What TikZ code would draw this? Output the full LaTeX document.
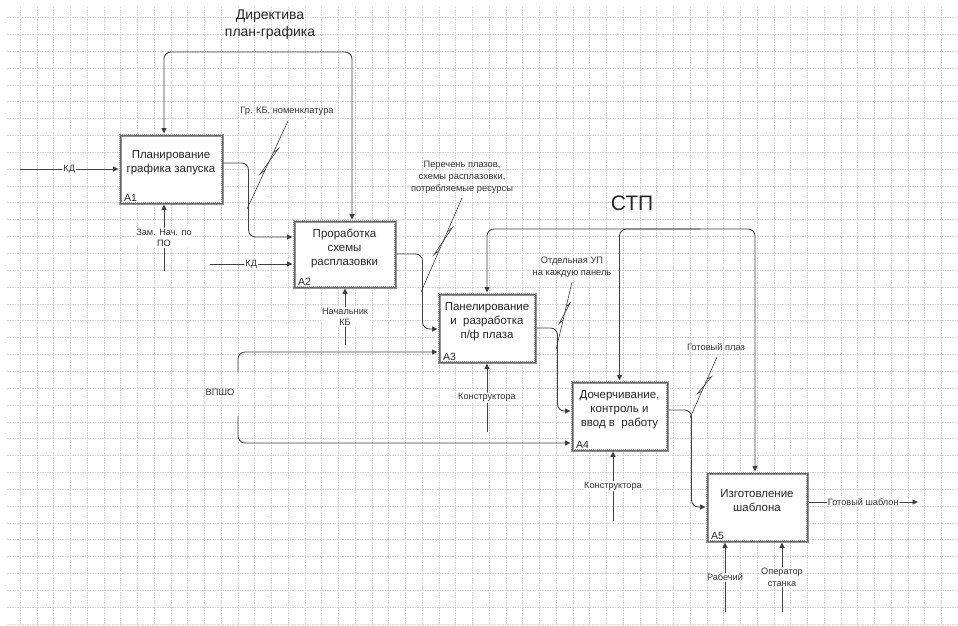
\documentclass[tikz,border=0pt]{standalone}
\usepackage{fontspec}
\setmainfont{Liberation Sans}
\usetikzlibrary{arrows.meta,calc,positioning}

% squiggle from a callout label to its arrow
\newcommand{\squigline}[2]{%
  \draw[callout] (#1) -- (#2);
  \draw[callout] ($(#1)!0.36!(#2)$) -- ($(#1)!0.30!(#2)!3pt!90:(#2)$)
    -- ($(#1)!0.62!(#2)!3pt!-90:(#2)$) -- ($(#1)!0.56!(#2)$);
}

\begin{document}
\begin{tikzpicture}[x=1pt,y=-1pt,
  gridline/.style={draw=gray!35, line width=0.4pt, dash pattern=on 1.5pt off 1pt},
  procbox/.style={draw=gray!85, line width=3pt, inner sep=0pt, fill=white,
    postaction={draw=white, line width=1.6pt, dash pattern=on 1pt off 1pt},
    postaction={draw=black!60, line width=0.5pt}},
  boxtext/.style={align=center, inner sep=0pt, text=black!85,
    font=\fontsize{11.5}{14}\selectfont},
  boxid/.style={anchor=south west, inner xsep=5.5pt, inner ysep=3pt, text=black!85,
    font=\fontsize{10.5}{12}\selectfont},
  flow/.style={draw=black!75, line width=0.85pt, rounded corners=7pt,
    -{Triangle[length=5.5pt,width=5pt]}},
  callout/.style={draw=black!75, line width=0.6pt},
  lbl/.style={align=center, inner sep=1pt, fill=white, text=black!80,
    font=\fontsize{9.2}{11.5}\selectfont},
  note/.style={align=center, inner sep=1pt, text=black!80,
    font=\fontsize{9.3}{12}\selectfont},
  dirlbl/.style={align=center, inner sep=0pt, text=black!85,
    font=\fontsize{14}{17}\selectfont},
  bigtitle/.style={inner sep=0pt, text=black!85, font=\fontsize{21}{24}\selectfont}]
\useasboundingbox (0,0) rectangle (958,626);

% grid
\foreach \i in {0,...,55}
  \draw[gridline] ({20+16.75*\i},7) -- ({20+16.75*\i},626);
\foreach \j in {1,...,37}
  \draw[gridline] (7,{0.45+16.85*\j}) -- (958,{0.45+16.85*\j});

% activities
\node[procbox, minimum width=102pt, minimum height=68pt] (a1) at (171,169) {};
\node[boxtext] (a1t) at ([yshift=6pt]a1.center) {Планирование\\графика запуска};
\node[boxid] (a1n) at (a1.south west) {A1};

\node[procbox, minimum width=101pt, minimum height=66pt] (a2) at (344.5,254) {};
\node[boxtext] (a2t) at ([yshift=6pt]a2.center) {Проработка\\схемы\\расплазовки};
\node[boxid] (a2n) at (a2.south west) {A2};

\node[procbox, minimum width=96pt, minimum height=68pt] (a3) at (487,328) {};
\node[boxtext] (a3t) at ([yshift=6pt]a3.center) {Панелирование\\и\ \ разработка\\п/ф плаза};
\node[boxid] (a3n) at (a3.south west) {A3};

\node[procbox, minimum width=95pt, minimum height=68pt] (a4) at (619.5,416) {};
\node[boxtext] (a4t) at ([yshift=6pt]a4.center) {Дочерчивание,\\контроль и\\ввод в\ \ работу};
\node[boxid] (a4n) at (a4.south west) {A4};

\node[procbox, minimum width=100pt, minimum height=68pt] (a5) at (757,507) {};
\node[boxtext] (a5t) at ([yshift=6pt]a5.center) {Изготовление\\шаблона};
\node[boxid] (a5n) at (a5.south west) {A5};

% inputs and outputs
\coordinate (kd1) at (20,169);
\draw[flow] (kd1) -- node[lbl] {КД} (a1.west);
\draw[flow] ([yshift=6pt]a1.east) -- ++(25,0) |- ([yshift=17pt]a2.west);
\coordinate (kd2) at (210,264);
\draw[flow] (kd2) -- node[lbl] {КД} ([yshift=-10pt]a2.west);
\draw[flow] (a2.east) -- ++(26,0) |- ([yshift=-1pt]a3.west);
\draw[flow] (a3.east) -- ++(21,0) |- ([yshift=5pt]a4.west);
\draw[flow] ([yshift=6pt]a4.east) -- ++(23,0) |- (a5.west);
\coordinate (out) at (918,502);
\draw[flow] ([yshift=5pt]a5.east) -- node[lbl] {Готовый шаблон} (out);

\node[note] (vpsho) at (220,392) {ВПШО};
\coordinate (vp1) at (238,372);
\coordinate (vp2) at (238,416);
\draw[flow] (vp1) |- ([yshift=-24pt]a3.west);
\draw[flow] (vp2) |- ([yshift=-27pt]a4.west);

% controls
\node[dirlbl] (dir) at (270,25) {Директива\\план-графика};
\coordinate (dirsrc) at (270,52);
\draw[flow] (dirsrc) -| ([xshift=-7pt]a1.north);
\draw[flow] (dirsrc) -| ([xshift=7.5pt]a2.north);

\node[bigtitle] (stp) at (632,203) {СТП};
\coordinate (stpsrc) at (700,229);
\draw[flow] (stpsrc) -| (a3.north);
\draw[flow] (stpsrc) -| (a4.north);
\draw[flow] (stpsrc) -| ([xshift=-2pt]a5.north);

% mechanisms
\coordinate (m1) at (164,271);
\draw[flow] (m1) -- node[lbl] {Зам. Нач. по\\ПО} ([xshift=-7pt]a1.south);
\coordinate (m2) at (345,345);
\draw[flow] (m2) -- node[lbl] {Начальник\\КБ} ([xshift=0.5pt]a2.south);
\coordinate (m3) at (487,432);
\draw[flow] (m3) -- node[lbl] {Конструктора} (a3.south);
\coordinate (m4) at (613,521);
\draw[flow] (m4) -- node[lbl] {Конструктора} ([xshift=-6.5pt]a4.south);
\coordinate (m5) at (725,612);
\draw[flow] (m5) -- node[lbl] {Рабечий} ([xshift=-32pt]a5.south);
\coordinate (m6) at (782,612);
\draw[flow] (m6) -- node[lbl] {Оператор\\станка} ([xshift=25pt]a5.south);

% callouts
\node[note] (grkb) at (287,111) {Гр. КБ, номенклатура};
\coordinate (grkbtop) at (288,121);
\coordinate (grkbend) at (247,209);
\squigline{grkbtop}{grkbend}

\node[note] (perech) at (462,177) {Перечень плазов,\\схемы расплазовки,\\потребляемые ресурсы};
\coordinate (perechtop) at (462,198);
\coordinate (perechend) at (421,292);
\squigline{perechtop}{perechend}

\node[note] (otdup) at (572,267) {Отдельная УП\\на каждую панель};
\coordinate (otduptop) at (572,282);
\coordinate (otdupend) at (556,350);
\squigline{otduptop}{otdupend}

\node[note] (gotplaz) at (716,347) {Готовый плаз};
\coordinate (gotplaztop) at (717,357);
\coordinate (gotplazend) at (690,418);
\squigline{gotplaztop}{gotplazend}
\end{tikzpicture}
\end{document}
